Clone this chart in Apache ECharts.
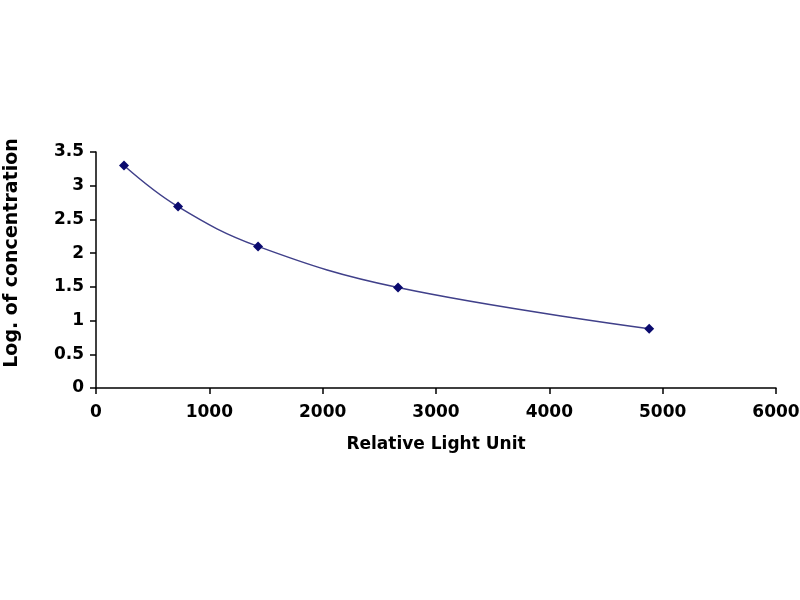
<!DOCTYPE html>
<html>
<head>
<meta charset="utf-8">
<script src="https://cdn.jsdelivr.net/npm/echarts@6/dist/echarts.min.js"></script>
<style>
  html, body { margin: 0; padding: 0; background: #fff; }
  #main { width: 800px; height: 600px; }
</style>
</head>
<body>
<div id="main"></div>
<script>
// 標準曲線數據
const rluValues = [247, 724, 1430, 2665, 4881];
const logConc = [3.30, 2.69, 2.10, 1.49, 0.88];
const xTitle = 'Relative Light Unit';
const yTitle = 'Log. of concentration';

const chart = echarts.init(document.getElementById('main'));

const points = rluValues.map((x, i) => [x, logConc[i]]);

const axisFont = {
    fontFamily: 'DejaVu Sans, sans-serif',
    fontWeight: 'bold',
    fontSize: 17,
    color: '#000'
};

const option = {
    animation: false,
    backgroundColor: '#fff',
    grid: { left: 96, right: 24, top: 152, bottom: 212, outerBoundsMode: 'none' },
    xAxis: {
        type: 'value',
        min: 0, max: 6000, interval: 1000,
        name: xTitle,
        nameLocation: 'middle',
        nameGap: 48,
        nameTextStyle: axisFont,
        axisLine: { lineStyle: { color: '#000', width: 1.5 } },
        axisTick: { show: true, length: 6, lineStyle: { color: '#000', width: 1.5 } },
        axisLabel: Object.assign({ margin: 16, formatter: v => String(v) }, axisFont),
        splitLine: { show: false }
    },
    yAxis: {
        type: 'value',
        min: 0, max: 3.5, interval: 0.5,
        name: yTitle,
        nameLocation: 'middle',
        nameGap: 74,
        nameTextStyle: Object.assign({}, axisFont, { fontSize: 19, padding: [0, 0, 0, 34] }),
        axisLine: { show: true, lineStyle: { color: '#000', width: 1.5 } },
        axisTick: { show: true, length: 6, lineStyle: { color: '#000', width: 1.5 } },
        axisLabel: Object.assign({ margin: 12, formatter: v => String(v) }, axisFont),
        splitLine: { show: false }
    },
    series: [{
        type: 'line',
        data: points,
        smooth: 0.4,
        symbol: 'diamond',
        symbolSize: 10,
        itemStyle: { color: '#0a0a6e' },
        lineStyle: { color: '#40408a', width: 1.5 }
    }]
};

chart.setOption(option);
</script>
</body>
</html>
